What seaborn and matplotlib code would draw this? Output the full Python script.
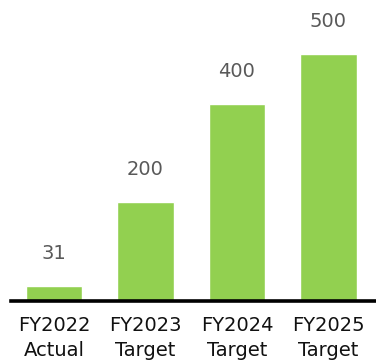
import matplotlib
matplotlib.use("Agg")
import matplotlib.pyplot as plt
import seaborn as sns
import pandas as pd

years = ["FY2022", "FY2023", "FY2024", "FY2025"]
kinds = ["Actual", "Target", "Target", "Target"]
values = [31, 200, 400, 500]

labels = [f"{y}\n{k}" for y, k in zip(years, kinds)]
df = pd.DataFrame({"label": labels, "value": values})

sns.set_theme(style="white")
plt.rcParams["font.family"] = ["DejaVu Sans"]

fig = plt.figure(figsize=(3.76, 3.61), dpi=100)
ax = fig.add_axes([11 / 376, 60 / 361, 365 / 376, 301 / 361])

sns.barplot(data=df, x="label", y="value", color="#92D050", width=0.62,
            saturation=1, ax=ax, zorder=2)

ax.set_xlim(-0.47, 3.52)
ax.set_ylim(0, 610)

for i, v in enumerate(values):
    ax.annotate(f"{v}", xy=(i, v), xytext=(0, 23.4), textcoords="offset points",
                ha="center", va="center", fontsize=14, color="#595959")

for side in ["left", "top", "right"]:
    ax.spines[side].set_visible(False)
ax.spines["bottom"].set_color("black")
ax.spines["bottom"].set_linewidth(2.6)
ax.spines["bottom"].set_zorder(3)

ax.set_yticks([])
ax.set_xlabel("")
ax.set_ylabel("")
ax.tick_params(axis="x", length=0, pad=10.5, labelsize=14, labelcolor="#111111")
for t in ax.get_xticklabels():
    t.set_linespacing(1.42)

fig.savefig("out.png", dpi=100)
